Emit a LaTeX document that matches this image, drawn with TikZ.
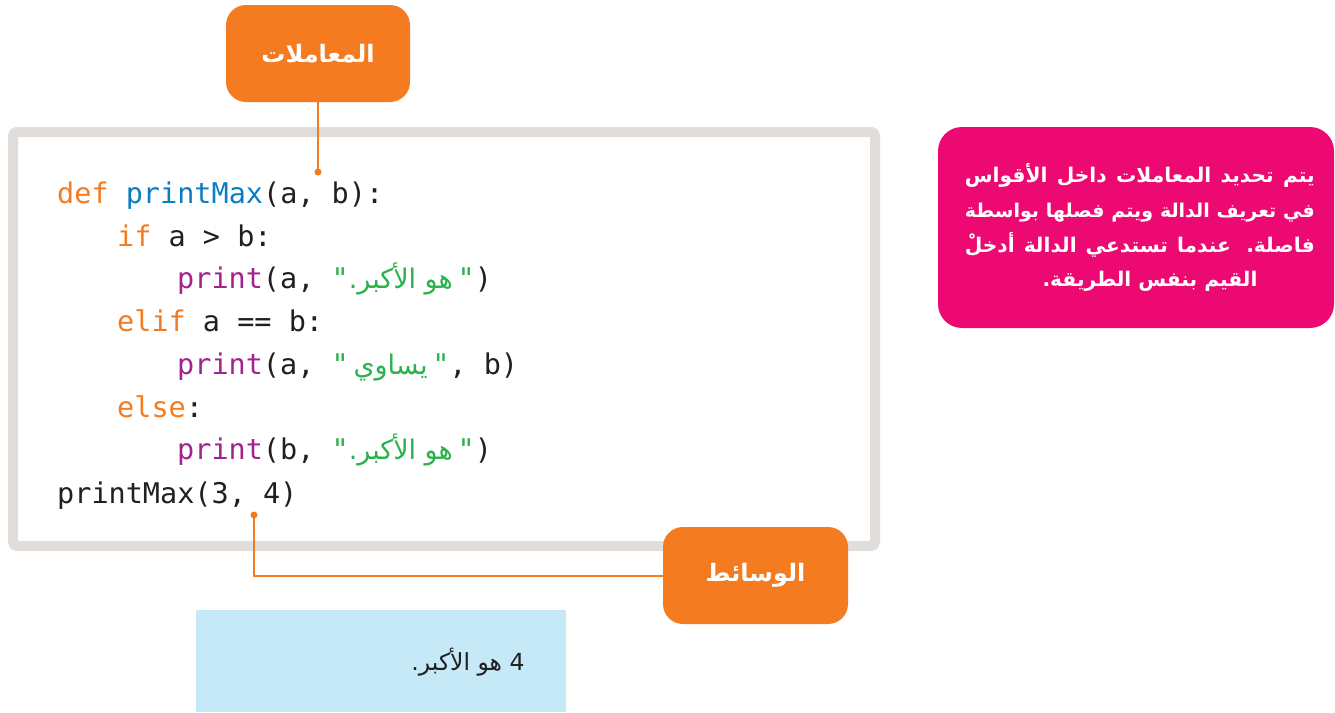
\documentclass[tikz,border=0pt]{standalone}
\usepackage{fontspec}
\TeXXeTstate=1
\setmonofont{DejaVu Sans Mono}
\newfontfamily\arabicfont[Script=Arabic]{DejaVu Sans}
\definecolor{orangeK}{HTML}{F47B20}
\definecolor{blueF}{HTML}{0B7DC3}
\definecolor{purpleP}{HTML}{A3238E}
\definecolor{greenS}{HTML}{2BB24C}
\definecolor{pinkN}{HTML}{EC0A72}
\definecolor{frameC}{HTML}{E1DDDB}
\definecolor{lightB}{HTML}{C6E9F8}
\definecolor{darkT}{HTML}{231F20}
\tikzset{
  obox/.style={fill=orangeK, rounded corners=20pt, text=white, inner sep=0pt,
    font=\arabicfont\bfseries\fontsize{24}{28}\selectfont},
  codetxt/.style={anchor=base west, inner sep=0pt, text=darkT,
    font=\ttfamily\fontsize{28.5}{34}\selectfont},
  notetxt/.style={inner sep=0pt, text=white,
    font=\arabicfont\bfseries\fontsize{20.2}{26}\selectfont},
  dotn/.style={circle, fill=orangeK, inner sep=0pt, minimum size=7pt},
  conn/.style={draw=orangeK, line width=2pt},
}
\newcommand{\ar}[1]{{\arabicfont\fontsize{27}{30}\selectfont\beginR #1\endR}}
\begin{document}
\begin{tikzpicture}[x=1pt,y=-1pt]
\useasboundingbox (0,0) rectangle (1335,712);
% code frame
\draw[frameC, line width=10pt, rounded corners=4pt] (13,132) rectangle (875,546);
% output box
\node[fill=lightB, inner sep=0pt, minimum width=370pt, minimum height=102pt] (out) at (381,661) {};
\node[inner sep=0pt, text=darkT, anchor=base, font=\arabicfont\fontsize{23.5}{28}\selectfont] (outtxt) at (468,670) {\beginR 4 هو الأكبر.\endR};
% code
\node[codetxt] (l1) at (57,203) {\textcolor{orangeK}{def} \textcolor{blueF}{printMax}(a, b):};
\node[codetxt] (l2) at (117,246) {\textcolor{orangeK}{if} a > b:};
\node[codetxt] (l3) at (177,288) {\textcolor{purpleP}{print}(a, \textcolor{greenS}{"\ar{هو الأكبر.}\,"})};
\node[codetxt] (l4) at (117,331) {\textcolor{orangeK}{elif} a == b:};
\node[codetxt] (l5) at (177,374) {\textcolor{purpleP}{print}(a, \textcolor{greenS}{"\,\ar{يساوي}\,"}, b)};
\node[codetxt] (l6) at (117,417) {\textcolor{orangeK}{else}:};
\node[codetxt] (l7) at (177,459) {\textcolor{purpleP}{print}(b, \textcolor{greenS}{"\ar{هو الأكبر.}\,"})};
\node[codetxt] (l8) at (57,503) {printMax(3, 4)};
% labels
\node[obox, minimum width=184pt, minimum height=97pt] (params) at (318,53.5) {\beginR المعاملات\endR};
\node[obox, minimum width=185pt, minimum height=97pt] (args) at (755.5,575.5) {\beginR الوسائط\endR};
\node[dotn] (d1) at (318,172) {};
\node[dotn] (d2) at (254,515) {};
\draw[conn] (params.south) -- (d1.center);
\draw[conn] (d2.center) |- (args.west);
% note
\node[fill=pinkN, rounded corners=24pt, inner sep=0pt, minimum width=396pt, minimum height=201pt] (note) at (1136,227.5) {};
\node[notetxt, anchor=base east] (t1) at (1315,182) {\makebox[350pt][s]{\beginR يتم تحديد المعاملات داخل الأقواس\endR}};
\node[notetxt, anchor=base east, font=\arabicfont\bfseries\fontsize{19}{26}\selectfont] (t2) at (1315,217) {\makebox[350pt][s]{\beginR في تعريف الدالة ويتم فصلها بواسطة\endR}};
\node[notetxt, anchor=base east] (t3) at (1315,252) {\makebox[350pt][s]{\beginR فاصلة. عندما تستدعي الدالة أدخلْ\endR}};
\node[notetxt, anchor=base] (t4) at (1150,286) {\beginR القيم بنفس الطريقة.\endR};
\end{tikzpicture}
\end{document}
